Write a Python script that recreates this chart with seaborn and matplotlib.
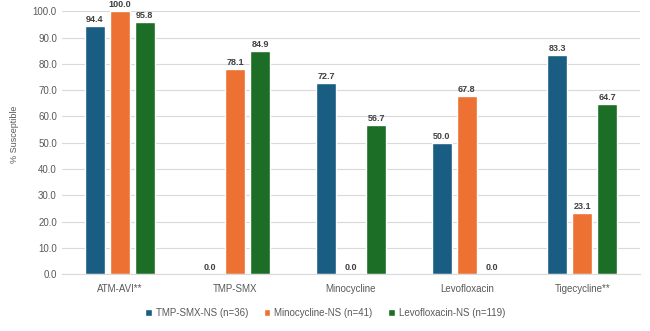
import pandas as pd
import matplotlib
matplotlib.use('Agg')
import matplotlib.pyplot as plt
import seaborn as sns

# data
drugs = ['ATM-AVI**', 'TMP-SMX', 'Minocycline', 'Levofloxacin', 'Tigecycline**']
groups = ['TMP-SMX-NS (n=36)', 'Minocycline-NS (n=41)', 'Levofloxacin-NS (n=119)']
tmp_smx_ns = [94.4, 0.0, 72.7, 50.0, 83.3]
minocycline_ns = [100.0, 78.1, 0.0, 67.8, 23.1]
levofloxacin_ns = [95.8, 84.9, 56.7, 0.0, 64.7]
colors = ['#195d82', '#ec7132', '#1c6d26']

rows = []
for g, vals in zip(groups, [tmp_smx_ns, minocycline_ns, levofloxacin_ns]):
    for d, v in zip(drugs, vals):
        rows.append({'Drug': d, 'Group': g, 'Susceptible': v})
df = pd.DataFrame(rows)

sns.set_style('white')
plt.rcParams['font.family'] = ['Liberation Sans', 'DejaVu Sans']

fig = plt.figure(figsize=(6.5, 3.31), dpi=100)
ax = fig.add_axes([0.095, 0.172, 0.89, 0.794])

sns.barplot(data=df, x='Drug', y='Susceptible', hue='Group', order=drugs,
            hue_order=groups, palette=colors, width=0.65, gap=0.2,
            errorbar=None, saturation=1, ax=ax)

for cont in ax.containers:
    ax.bar_label(cont, fmt='%.1f', padding=1.5, fontsize=6.5,
                 fontweight='bold', color='#404040')

ax.set_ylim(0, 100)
ax.set_yticks(range(0, 101, 10))
ax.set_yticklabels([f'{t:.1f}' for t in range(0, 101, 10)])
ax.yaxis.grid(True, color='#d9d9d9', linewidth=0.8)
ax.set_axisbelow(True)
for s in ['top', 'right', 'left']:
    ax.spines[s].set_visible(False)
ax.spines['bottom'].set_color('#d9d9d9')
ax.tick_params(axis='both', length=0, labelsize=7, colors='#595959')
ax.tick_params(axis='x', pad=7)
ax.set_xlabel('')
ax.set_ylabel('% Susceptible', fontsize=6.5, color='#595959')
ax.yaxis.set_label_coords(-0.074, 0.53)

handles, labels = ax.get_legend_handles_labels()
ax.get_legend().remove()
fig.legend(handles, labels, loc='center', bbox_to_anchor=(0.5, 0.054),
           ncol=3, frameon=False, fontsize=7, handlelength=0.7,
           handleheight=0.7, handletextpad=0.4, columnspacing=1.6,
           labelcolor='#595959')

fig.savefig('out.png', dpi=100)
